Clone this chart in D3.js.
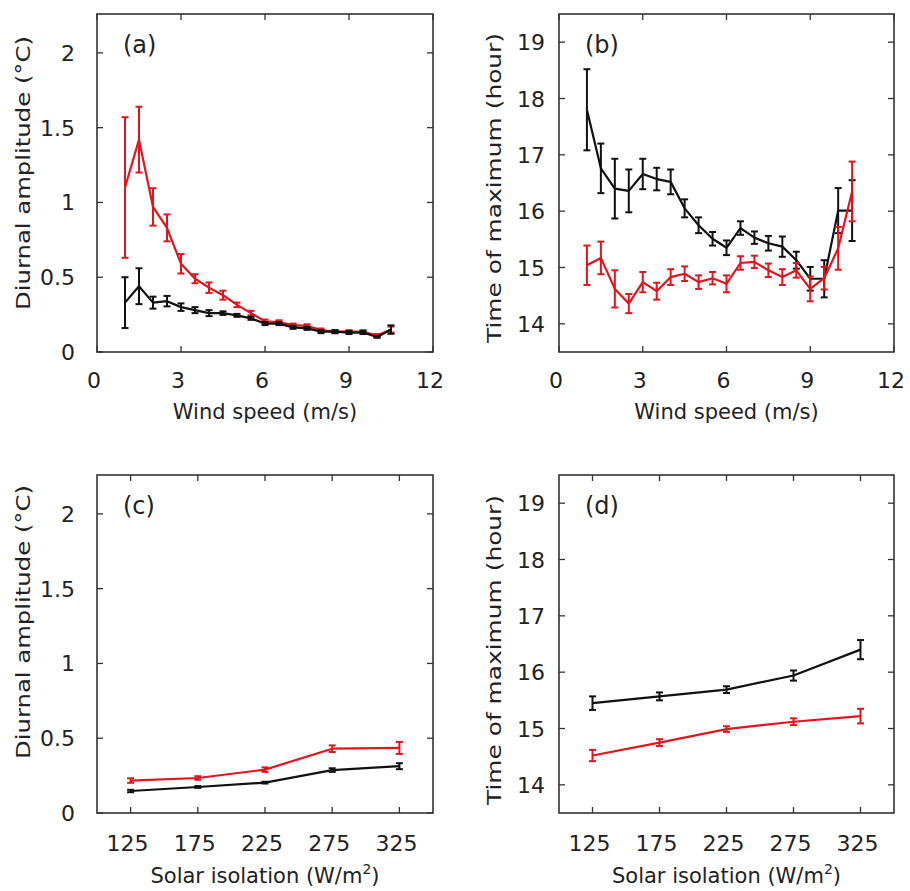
<!DOCTYPE html>
<html><head><meta charset="utf-8">
<script src="https://cdn.jsdelivr.net/npm/d3@7"></script>
<style>body{margin:0;background:#fff}svg{display:block}text{font-family:"DejaVu Sans",sans-serif;fill:#222}</style>
</head><body><svg id="c" width="910" height="891"></svg>
<script>
const windSpeed = [1,1.5,2,2.5,3,3.5,4,4.5,5,5.5,6,6.5,7,7.5,8,8.5,9,9.5,10,10.5];
const ampWindRed = [1.10,1.42,0.97,0.83,0.59,0.49,0.43,0.38,0.315,0.26,0.205,0.20,0.18,0.175,0.147,0.136,0.136,0.136,0.11,0.15];
const ampWindRedErr = [0.47,0.22,0.125,0.09,0.065,0.03,0.035,0.03,0.015,0.015,0.012,0.012,0.01,0.01,0.01,0.01,0.01,0.01,0.01,0.02];
const ampWindBlack = [0.33,0.44,0.33,0.34,0.30,0.28,0.26,0.26,0.245,0.225,0.19,0.19,0.165,0.158,0.136,0.136,0.13,0.13,0.10,0.15];
const ampWindBlackErr = [0.17,0.12,0.04,0.035,0.025,0.02,0.02,0.012,0.01,0.01,0.01,0.01,0.01,0.01,0.01,0.01,0.01,0.01,0.005,0.028];
const timeWindBlack = [17.80,16.76,16.40,16.36,16.66,16.57,16.52,16.05,15.75,15.51,15.35,15.70,15.53,15.43,15.37,15.13,14.80,14.80,16.01,16.01];
const timeWindBlackErr = [0.72,0.44,0.53,0.38,0.27,0.20,0.22,0.16,0.14,0.12,0.13,0.12,0.11,0.13,0.18,0.15,0.21,0.33,0.40,0.54];
const timeWindRed = [15.04,15.17,14.62,14.36,14.74,14.58,14.83,14.89,14.74,14.81,14.71,15.08,15.10,14.95,14.83,14.95,14.62,14.81,15.34,16.35];
const timeWindRedErr = [0.35,0.29,0.33,0.17,0.18,0.15,0.14,0.13,0.12,0.11,0.15,0.12,0.11,0.12,0.14,0.13,0.22,0.20,0.38,0.53];
const solar = [125,175,225,275,325];
const ampSolarRed = [0.217,0.234,0.29,0.43,0.435];
const ampSolarRedErr = [0.015,0.012,0.015,0.022,0.04];
const ampSolarBlack = [0.147,0.174,0.203,0.287,0.313];
const ampSolarBlackErr = [0.008,0.006,0.006,0.012,0.02];
const timeSolarBlack = [15.45,15.57,15.69,15.94,16.40];
const timeSolarBlackErr = [0.12,0.07,0.06,0.09,0.17];
const timeSolarRed = [14.52,14.75,14.99,15.12,15.22];
const timeSolarRedErr = [0.10,0.06,0.05,0.06,0.13];
const windTicks = [0,3,6,9,12];
const ampTicks = [0,0.5,1,1.5,2];
const ampTickLabels = ["0","0.5","1","1.5","2"];
const hourTicks = [14,15,16,17,18,19];
const solarTicks = [125,175,225,275,325];

const RED = "#e3141b", BLACK = "#111";
const svg = d3.select("#c");

function panel(o){
  const g = svg.append("g");
  const x = d3.scaleLinear().domain(o.xd).range([o.l, o.l+o.w]);
  const y = d3.scaleLinear().domain(o.yd).range([o.t+o.h, o.t]);
  const tl = 6;
  o.xt.forEach(v=>{
    g.append("line").attr("x1",x(v)).attr("x2",x(v)).attr("y1",o.t+o.h).attr("y2",o.t+o.h-tl).attr("stroke","#333").attr("stroke-width",1.3);
    g.append("line").attr("x1",x(v)).attr("x2",x(v)).attr("y1",o.t).attr("y2",o.t+tl).attr("stroke","#333").attr("stroke-width",1.3);
    g.append("text").attr("x",x(v)-3).attr("y",o.t+o.h+o.xto).attr("text-anchor","middle").attr("font-size",22).text(v);
  });
  o.yt.forEach((v,i)=>{
    g.append("line").attr("x1",o.l).attr("x2",o.l+tl).attr("y1",y(v)).attr("y2",y(v)).attr("stroke","#333").attr("stroke-width",1.3);
    g.append("line").attr("x1",o.l+o.w).attr("x2",o.l+o.w-tl).attr("y1",y(v)).attr("y2",y(v)).attr("stroke","#333").attr("stroke-width",1.3);
    g.append("text").attr("x",o.l-o.yg).attr("y",y(v)+8).attr("text-anchor","end").attr("font-size",22).text(o.ytl?o.ytl[i]:v);
  });
  g.append("rect").attr("x",o.l).attr("y",o.t).attr("width",o.w).attr("height",o.h).attr("fill","none").attr("stroke","#333").attr("stroke-width",1.6);
  g.append("text").attr("x",o.l+26).attr("y",o.t+39).attr("font-size",24).text(o.tag);
  const xl = g.append("text").attr("x",o.l+o.w/2).attr("y",o.t+o.h+o.xlo).attr("text-anchor","middle").attr("font-size",21);
  if(o.sup){ xl.append("tspan").text("Solar isolation (W/m"); xl.append("tspan").attr("dy",-9).attr("font-size",14).text("2"); xl.append("tspan").attr("dy",9).text(")"); }
  else xl.text(o.xlab);
  g.append("text").attr("transform",`translate(${o.ylx},${o.t+o.h/2+o.yly}) rotate(-90)`).attr("text-anchor","middle").attr("font-size",20).attr("textLength",o.ylen).attr("lengthAdjust","spacingAndGlyphs").text(o.ylab);
  o.series.forEach(s=>{
    const pts = o.xs.map((xv,i)=>({x:xv,y:s.v[i],e:s.e[i]}));
    g.append("path").attr("d",d3.line().x(d=>x(d.x)).y(d=>y(d.y))(pts)).attr("fill","none").attr("stroke",s.c).attr("stroke-width",2.2).attr("stroke-linejoin","round");
    pts.forEach(d=>{
      const y1=y(d.y+d.e), y2=y(d.y-d.e), cx=x(d.x);
      g.append("line").attr("x1",cx).attr("x2",cx).attr("y1",y1).attr("y2",y2).attr("stroke",s.c).attr("stroke-width",2);
      [y1,y2].forEach(yy=>g.append("line").attr("x1",cx-3.5).attr("x2",cx+3.5).attr("y1",yy).attr("y2",yy).attr("stroke",s.c).attr("stroke-width",2));
    });
  });
}

panel({l:97,t:14,w:336,h:338,xd:[0,12],yd:[0,2.26],xt:windTicks,yt:ampTicks,ytl:ampTickLabels,yg:22,tag:"(a)",xto:36,
  xlab:"Wind speed (m/s)",xlo:67,ylab:"Diurnal amplitude (°C)",ylx:30,yly:-10,ylen:274,xs:windSpeed,
  series:[{v:ampWindRed,e:ampWindRedErr,c:RED},{v:ampWindBlack,e:ampWindBlackErr,c:BLACK}]});
panel({l:559,t:14,w:335,h:338,xd:[0,12],yd:[13.5,19.5],xt:windTicks,yt:hourTicks,yg:14,tag:"(b)",xto:36,
  xlab:"Wind speed (m/s)",xlo:67,ylab:"Time of maximum (hour)",ylx:501,yly:5,ylen:310,xs:windSpeed,
  series:[{v:timeWindBlack,e:timeWindBlackErr,c:BLACK},{v:timeWindRed,e:timeWindRedErr,c:RED}]});
panel({l:97,t:475,w:336,h:338,xd:[100,350],yd:[0,2.26],xt:solarTicks,yt:ampTicks,ytl:ampTickLabels,yg:22,tag:"(c)",xto:38,
  sup:true,xlo:70,ylab:"Diurnal amplitude (°C)",ylx:30,yly:-22,ylen:274,xs:solar,
  series:[{v:ampSolarRed,e:ampSolarRedErr,c:RED},{v:ampSolarBlack,e:ampSolarBlackErr,c:BLACK}]});
panel({l:559,t:475,w:335,h:338,xd:[100,350],yd:[13.5,19.5],xt:solarTicks,yt:hourTicks,yg:14,tag:"(d)",xto:38,
  sup:true,xlo:70,ylab:"Time of maximum (hour)",ylx:501,yly:6,ylen:310,xs:solar,
  series:[{v:timeSolarBlack,e:timeSolarBlackErr,c:BLACK},{v:timeSolarRed,e:timeSolarRedErr,c:RED}]});
</script></body></html>
